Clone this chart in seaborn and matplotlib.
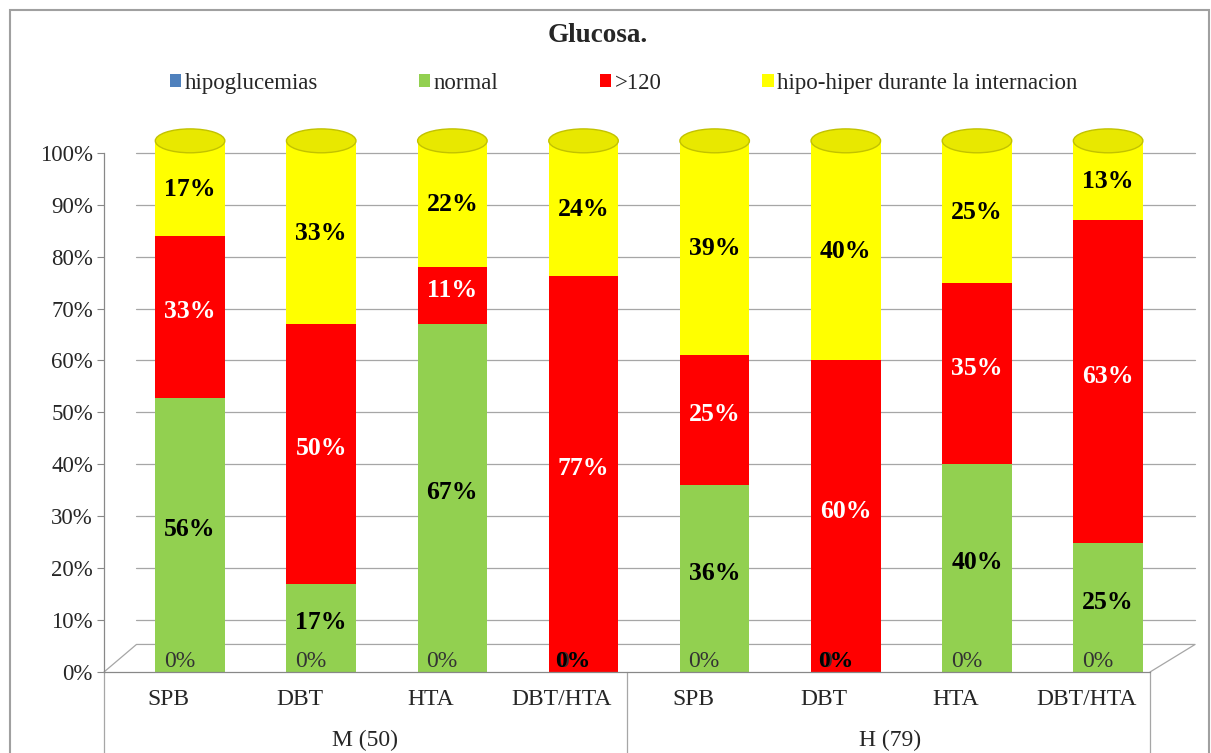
import numpy as np
import pandas as pd
import matplotlib
matplotlib.use("Agg")
import matplotlib.pyplot as plt
import seaborn as sns
from matplotlib.patches import Rectangle, Patch, Ellipse
from matplotlib.transforms import blended_transform_factory

# ---- data ----
groups = ["M (50)", "H (79)"]
subcats = ["SPB", "DBT", "HTA", "DBT/HTA"]
series = ["hipoglucemias", "normal", ">120", "hipo-hiper durante la internacion"]
hipo = [0, 0, 0, 0, 0, 0, 0, 0]
normal = [56, 17, 67, 0, 36, 0, 40, 25]
high = [33, 50, 11, 77, 25, 60, 35, 63]
hipohiper = [17, 33, 22, 24, 39, 40, 25, 13]
colors = ["#4F81BD", "#92D050", "#FF0000", "#FFFF00"]

sns.set_theme(style="white")
plt.rcParams["font.family"] = ["Liberation Serif", "DejaVu Serif"]

labels = [f"{g}|{s}" for g in groups for s in subcats]
vals = np.array([hipo, normal, high, hipohiper], dtype=float)
totals = vals.sum(axis=0)
pct = vals / totals * 100
cum = np.cumsum(pct, axis=0)

df = pd.DataFrame({"cat": labels})
for i, s in enumerate(series):
    df[s] = cum[i]

fig = plt.figure(figsize=(12.11, 7.53), dpi=100)
ax = fig.add_axes([0.0859, 0.1076, 0.8638, 0.6895])

XL, XR = -0.656, 7.32
DEPTH = 5.3      # visual depth of the floor (in % units)
SHIFT = 0.165    # front-face offset of category labels (in category units)

# back-wall gridlines (extend a little to the right, like the 3D wall)
for y in np.arange(10, 101, 10):
    ax.axhline(y, xmin=0.031, xmax=1.043, color="#A6A6A6", lw=0.9, zorder=0, clip_on=False)

width = 0.53
for i in [3, 2, 1, 0]:
    sns.barplot(data=df, x="cat", y=series[i], color=colors[i], width=width,
                saturation=1, ax=ax, zorder=2, edgecolor="none")

# cylinder top caps taken from the drawn top-layer bars
for bar in ax.containers[0]:
    cx = bar.get_x() + bar.get_width() / 2
    top = bar.get_y() + bar.get_height()
    ax.add_patch(Rectangle((bar.get_x(), top), bar.get_width(), 2.3, facecolor="#FFFF00",
                           edgecolor="none", zorder=2, clip_on=False))
    ax.add_patch(Ellipse((cx, top + 2.3), bar.get_width(), 4.6, facecolor="#E8E800",
                         edgecolor="#C2C200", lw=1.0, zorder=3, clip_on=False))

ax.set_ylim(0, 100)
ax.set_xlim(XL, XR)
ax.set_yticks(np.arange(0, 101, 10))
ax.set_yticklabels([f"{v}%" for v in range(0, 101, 10)], fontsize=16.5)
ax.set_xticks(np.arange(8) - SHIFT)
ax.set_xticklabels(subcats * 2, fontsize=17)
ax.tick_params(axis="x", length=0, pad=12)
ax.tick_params(axis="y", length=5, width=0.8, color="#888888", direction="out", left=True, pad=3)
ax.set_xlabel("")
ax.set_ylabel("")
for sp in ["top", "right"]:
    ax.spines[sp].set_visible(False)
for sp in ["left", "bottom"]:
    ax.spines[sp].set_color("#888888")
    ax.spines[sp].set_linewidth(0.9)

# floor outline (3D look)
bx0 = XL + 0.031 * (XR - XL)
bx1 = XL + 1.043 * (XR - XL)
ax.plot([XL, bx0, bx1, XR], [0, DEPTH, DEPTH, 0], color="#A6A6A6", lw=0.9,
        zorder=1, clip_on=False)

# value labels
for j in range(8):
    base = 0
    for i in range(4):
        h = pct[i, j]
        mid = base + h / 2 + 1.0
        v = int(vals[i, j])
        if i == 0:
            ax.text(j - 0.08, 2.0, f"{v}%", ha="center", va="center", fontsize=17, color="#333333", zorder=5)
        elif i == 1:
            if v == 0:
                ax.text(j - 0.08, 2.0, f"{v}%", ha="center", va="center", fontsize=17, fontweight="bold", color="black", zorder=6)
            else:
                ax.text(j, mid, f"{v}%", ha="center", va="center", fontsize=18.5, fontweight="bold", color="black", zorder=5)
        elif i == 2:
            ax.text(j, mid, f"{v}%", ha="center", va="center", fontsize=18.5, fontweight="bold", color="white", zorder=5)
        else:
            ax.text(j, mid, f"{v}%", ha="center", va="center", fontsize=18.5, fontweight="bold", color="black", zorder=5)
        base += h

# group labels and separators
tr = blended_transform_factory(ax.transData, ax.transAxes)
for k, g in enumerate(groups):
    ax.text(1.5 - SHIFT + 4 * k, -0.131, g, transform=tr, ha="center", va="center", fontsize=17)
for xs in [XL, 3.5 - SHIFT, XR]:
    ax.plot([xs, xs], [0, -0.2], transform=tr, color="#A6A6A6", lw=0.9, clip_on=False)

# title & legend
fig.text(0.494, 0.953, "Glucosa.", ha="center", va="center", fontsize=19.5, fontweight="bold")
handles = [Patch(facecolor=c, edgecolor="none") for c in colors]
fig.legend(handles, series, loc="center", bbox_to_anchor=(0.515, 0.889), ncol=4, frameon=False,
           fontsize=16.5, handlelength=0.5, handleheight=0.5, handletextpad=0.15, columnspacing=4.4)

# outer frame
fig.patches.append(Rectangle((0.008, -0.01), 0.99, 0.997, transform=fig.transFigure,
                             fill=False, edgecolor="#A0A0A0", lw=1.5))

fig.savefig("out.png", dpi=100)
